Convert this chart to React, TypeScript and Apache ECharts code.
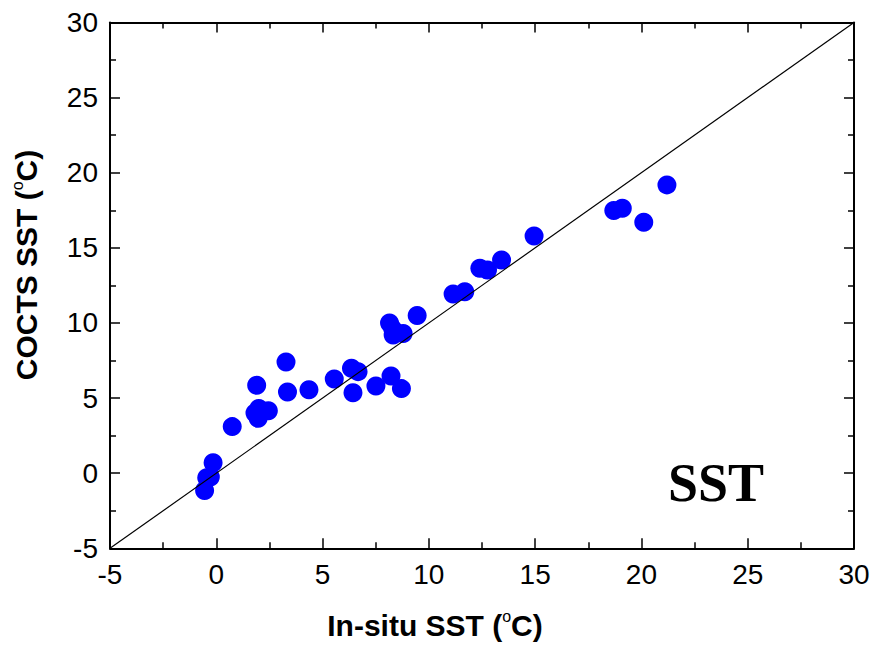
import React, { useEffect, useRef } from "react";
import * as echarts from "echarts";

const insituSST = [
  -0.55, -0.45, -0.28, -0.15, 0.75, 1.9, 1.82, 1.97, 2.0, 2.45, 3.28, 3.35, 4.36, 5.55,
  6.36, 6.67, 6.43, 7.51, 8.22, 8.71, 8.15, 8.3, 8.32, 8.79, 9.45, 11.14, 11.69, 12.4,
  12.76, 13.42, 14.95, 18.7, 19.1, 20.11, 21.2,
];
const coctsSST = [
  -1.15, -0.3, -0.25, 0.7, 3.1, 5.85, 4.0, 3.65, 4.3, 4.16, 7.4, 5.4, 5.55, 6.27,
  6.98, 6.76, 5.36, 5.8, 6.47, 5.63, 10.0, 9.6, 9.2, 9.3, 10.49, 11.93, 12.08, 13.64,
  13.53, 14.19, 15.79, 17.48, 17.64, 16.7, 19.19,
];
const oneToOne = [-5, 30];
const axisMin = -5;
const axisMax = 30;
const axisStep = 5;

const xTitle = "In-situ SST (";
const yTitle = "COCTS SST (";
const unitSup = "o";
const unitTail = "C)";
const panelLabel = "SST";

export default function App() {
  const ref = useRef<HTMLDivElement>(null);
  useEffect(() => {
    if (!ref.current) return;
    const chart = echarts.init(ref.current, undefined, { renderer: "svg" });
    const font = "Arial, 'Liberation Sans', Helvetica, sans-serif";
    const baseAxis = (pos: string, labels: boolean) => ({
      type: "value",
      position: pos,
      min: axisMin,
      max: axisMax,
      interval: axisStep,
      splitLine: { show: false },
      axisLine: { show: true, onZero: false, lineStyle: { color: "#000", width: 2 } },
      axisTick: { show: true, inside: true, length: 10, lineStyle: { color: "#000", width: 1.5 } },
      minorTick: { show: true, splitNumber: 2, length: 6, lineStyle: { color: "#000", width: 1.5 } },
      axisLabel: {
        show: labels,
        color: "#000",
        fontSize: 28,
        fontFamily: font,
        margin: 12,
        showMinLabel: true,
        showMaxLabel: true,
      },
    });
    const rich = {
      a: { fontSize: 30, fontWeight: "bold", fontFamily: font, color: "#000", lineHeight: 34 },
      s: {
        fontSize: 16,
        fontFamily: font,
        color: "#000",
        lineHeight: 16,
        verticalAlign: "top",
      },
    };
    const titleText = (t: string) => `{a|${t}}{s|${unitSup}}{a|${unitTail}}`;
    chart.setOption({
      animation: false,
      backgroundColor: "#fff",
      grid: { left: 110, right: 21, top: 22.5, bottom: 99.7, containLabel: false },
      xAxis: [baseAxis("bottom", true), baseAxis("top", false)],
      yAxis: [baseAxis("left", true), baseAxis("right", false)],
      series: [
        {
          type: "scatter",
          xAxisIndex: 0,
          yAxisIndex: 0,
          symbol: "circle",
          symbolSize: 19,
          itemStyle: { color: "#0000ff", opacity: 1 },
          data: insituSST.map((x, i) => [x, coctsSST[i]]),
          z: 2,
        },
        {
          type: "line",
          xAxisIndex: 0,
          yAxisIndex: 0,
          showSymbol: false,
          symbol: "none",
          lineStyle: { color: "#000", width: 1.2 },
          data: oneToOne.map((v) => [v, v]),
          z: 3,
        },
      ],
      graphic: [
        {
          type: "text",
          x: 435,
          y: 625,
          style: {
            text: titleText(xTitle),
            rich,
            align: "center",
            verticalAlign: "middle",
          },
        },
        {
          type: "text",
          x: 26,
          y: 265,
          rotation: Math.PI / 2,
          style: {
            text: titleText(yTitle),
            rich,
            align: "center",
            verticalAlign: "middle",
          },
        },
        {
          type: "text",
          x: 716,
          y: 483,
          style: {
            text: panelLabel,
            font: "bold 54px 'Times New Roman', 'Liberation Serif', serif",
            fill: "#000",
            align: "center",
            verticalAlign: "middle",
          },
        },
      ],
    });
    return () => chart.dispose();
  }, []);
  return <div ref={ref} style={{ width: 875, height: 648, position: "absolute", left: 0, top: 0 }} />;
}
